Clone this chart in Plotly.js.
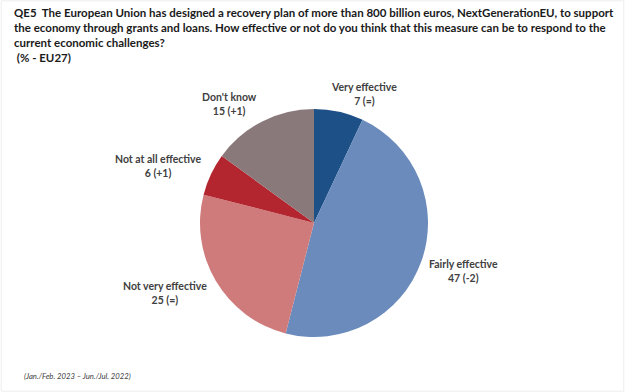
<!DOCTYPE html>
<html>
<head>
<meta charset="utf-8">
<script src="https://cdn.plot.ly/plotly-3.0.1.min.js"></script>
<style>
html,body{margin:0;padding:0;background:#fff;}
#chart{width:625px;height:392px;}
</style>
</head>
<body>
<div id="chart"></div>
<script>
const categories = ["Very effective", "Fairly effective", "Not very effective", "Not at all effective", "Don't know"];
const values = [7, 47, 25, 6, 15];
const changes = ["(=)", "(-2)", "(=)", "(+1)", "(+1)"];
const colors = ["#1D5087", "#6A8BBB", "#CF7B7C", "#B3262F", "#8A797B"];

const titleText = "QE5  The European Union has designed a recovery plan of more than 800 billion euros, NextGenerationEU, to support<br>the economy through grants and loans. How effective or not do you think that this measure can be to respond to the<br>current economic challenges?<br> (% - EU27)";
const footText = "(Jan./Feb. 2023 \u2013 Jun./Jul. 2022)";

// label anchor positions (paper coords) for each category, in the same order
const labelPos = [[0.583, 0.760], [0.742, 0.309], [0.264, 0.253], [0.253, 0.577], [0.367, 0.735]];

const W = 625, H = 392;
const cx = 314, cy = 223, r = 114;

const annotations = categories.map((c, i) => ({
  xref: 'paper', yref: 'paper',
  x: labelPos[i][0], y: labelPos[i][1],
  xanchor: 'center', yanchor: 'middle',
  text: '<b>' + c + '<br>' + values[i] + ' ' + changes[i] + '</b>',
  showarrow: false,
  align: 'center',
  font: {family: 'Lato, sans-serif', size: 10.5, color: '#404040'}
}));

annotations.push({
  xref: 'paper', yref: 'paper', x: 12 / W, y: 1 - 4 / H,
  xanchor: 'left', yanchor: 'top', showarrow: false, align: 'left',
  text: '<b>' + titleText + '</b>',
  font: {family: 'Lato, sans-serif', size: 11.5, color: '#1a1a1a'}
});

annotations.push({
  xref: 'paper', yref: 'paper', x: 22 / W, y: 1 - 376 / H,
  xanchor: 'left', yanchor: 'middle', showarrow: false,
  text: '<i>' + footText + '</i>',
  font: {family: 'Lato, sans-serif', size: 7.7, color: '#404040'}
});

const data = [{
  type: 'pie',
  labels: categories,
  values: values,
  sort: false,
  direction: 'clockwise',
  rotation: 0,
  marker: {colors: colors, line: {width: 0}},
  textinfo: 'none',
  hoverinfo: 'label+value',
  showlegend: false,
  domain: {x: [(cx - r) / W, (cx + r) / W], y: [1 - (cy + r) / H, 1 - (cy - r) / H]}
}];

const layout = {
  width: W, height: H,
  margin: {l: 0, r: 0, t: 0, b: 0},
  paper_bgcolor: '#ffffff',
  showlegend: false,
  annotations: annotations,
  shapes: [{type: 'rect', xref: 'paper', yref: 'paper', x0: 0.002, x1: 0.998, y0: 0.002, y1: 0.998, line: {color: '#eeeeee', width: 1}}]
};

Plotly.newPlot('chart', data, layout, {displayModeBar: false, staticPlot: true});
</script>
</body>
</html>
